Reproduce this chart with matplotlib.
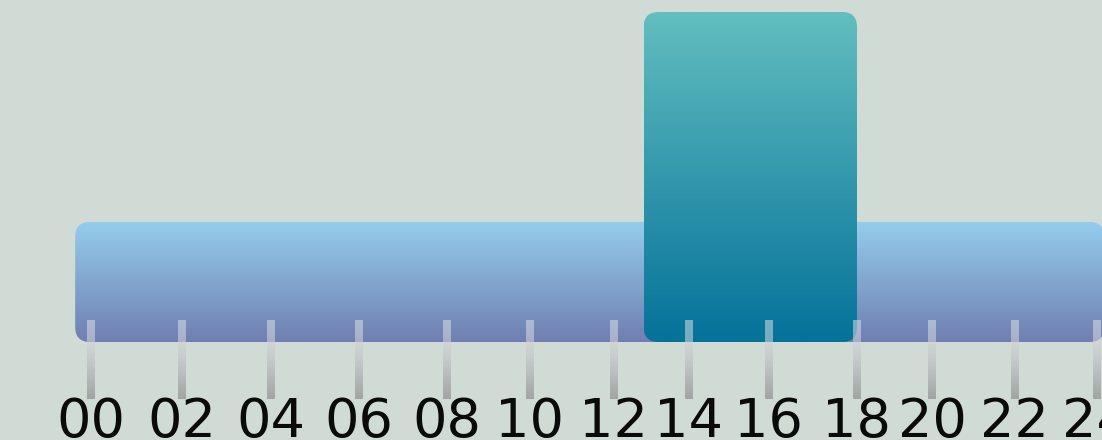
import matplotlib.pyplot as plt
import numpy as np
from matplotlib.patches import FancyBboxPatch
from matplotlib.colors import to_rgb

# data
hours = list(range(0, 25, 2))
tick_labels = [f"{h:02d}" for h in hours]
bar_start = [-0.34, 12.8]
bar_end = [24.2, 18.0]
bar_value = [36.4, 100]

# styles
bar_top_color = ["#95CDEC", "#62BEBF"]
bar_bottom_color = ["#6F7FB1", "#05729A"]
BG = "#D0DBD6"

# layout (pixels)
W, H = 1102, 440
TICK_PX = [90.7, 182, 270.5, 358.7, 447, 529.7, 613.7, 688.7, 768.7, 857, 932, 1014.7, 1096.3]
AX_BOTTOM = 394
BASE_Y = 342
TOP_Y = 12
RADIUS = 15


def _extrap(v, xs, ys):
    v = np.asarray(v, dtype=float)
    out = np.interp(v, xs, ys)
    sl = (ys[1] - ys[0]) / (xs[1] - xs[0])
    sr = (ys[-1] - ys[-2]) / (xs[-1] - xs[-2])
    out = np.where(v < xs[0], ys[0] + (v - xs[0]) * sl, out)
    out = np.where(v > xs[-1], ys[-1] + (v - xs[-1]) * sr, out)
    return out


def fwd(h):
    return _extrap(h, hours, TICK_PX)


def inv(p):
    return _extrap(p, TICK_PX, hours)


def gradient(top, bottom, n=256):
    t = np.linspace(0, 1, n)[:, None, None]
    return (1 - t) * np.array(top)[None, None, :] + t * np.array(bottom)[None, None, :]


fig = plt.figure(figsize=(W / 100, H / 100), dpi=100, facecolor=BG)
ax = fig.add_axes([0, (H - AX_BOTTOM) / H, 1, AX_BOTTOM / H])
ax.set_facecolor(BG)
ax.set_xscale("function", functions=(fwd, inv))
ax.set_xlim(float(inv(0)), float(inv(W)))
k = max(bar_value) / (BASE_Y - TOP_Y)
ax.set_ylim(-(AX_BOTTOM - BASE_Y) * k, max(bar_value) + TOP_Y * k)
for s in ax.spines.values():
    s.set_visible(False)
ax.set_yticks([])
ax.set_xticks(hours, tick_labels)
ax.tick_params(axis="x", length=0, pad=1.5, labelsize=39, labelcolor="#0a0a0a")

to_ax = ax.transAxes.inverted()

# rounded gradient bars
for x0, x1, v, ct, cb in zip(bar_start, bar_end, bar_value, bar_top_color, bar_bottom_color):
    p0 = to_ax.transform(ax.transData.transform((x0, 0)))
    p1 = to_ax.transform(ax.transData.transform((x1, v)))
    patch = FancyBboxPatch((p0[0], p0[1]), p1[0] - p0[0], p1[1] - p0[1],
                           boxstyle=f"round,pad=0,rounding_size={RADIUS / W}",
                           mutation_aspect=W / AX_BOTTOM,
                           transform=ax.transAxes, facecolor="none", edgecolor="none")
    ax.add_patch(patch)
    im = ax.imshow(gradient(to_rgb(ct), to_rgb(cb)), extent=(p0[0], p1[0], p0[1], p1[1]),
                   transform=ax.transAxes, aspect="auto", origin="upper",
                   interpolation="bilinear", zorder=2)
    im.set_clip_path(patch)

# gradient tick marks
tick_img = np.zeros((256, 1, 4))
t = np.linspace(0, 1, 256)
tick_img[:, 0, :3] = (1 - t)[:, None] * np.array([0.91, 0.92, 0.94]) + t[:, None] * np.array([0.58, 0.59, 0.59])
tick_img[:, 0, 3] = 0.5 + 0.3 * t
for h in hours:
    xc = to_ax.transform(ax.transData.transform((h, 0)))[0]
    hw = 3.8 / W
    im = ax.imshow(tick_img, extent=(xc - hw, xc + hw, (AX_BOTTOM - 399) / AX_BOTTOM, (AX_BOTTOM - 321) / AX_BOTTOM),
                   transform=ax.transAxes, aspect="auto", origin="upper", zorder=3)
    im.set_clip_on(False)

fig.savefig("out.png", dpi=100, facecolor=BG)
